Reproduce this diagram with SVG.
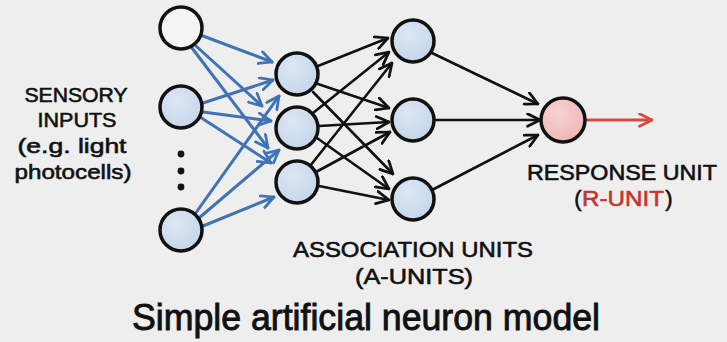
<svg xmlns="http://www.w3.org/2000/svg" width="727" height="342" viewBox="0 0 727 342">
  <defs>
    <radialGradient id="blueFill" cx="40%" cy="35%" r="70%">
      <stop offset="0" stop-color="#dde7f3"/>
      <stop offset="1" stop-color="#c3d5ea"/>
    </radialGradient>
    <radialGradient id="pinkFill" cx="40%" cy="35%" r="70%">
      <stop offset="0" stop-color="#f7d2d2"/>
      <stop offset="1" stop-color="#eeb6b6"/>
    </radialGradient>
    <marker id="headBlue" viewBox="0 0 12 12" refX="11" refY="6" markerWidth="15" markerHeight="15" markerUnits="userSpaceOnUse" orient="auto">
      <path d="M1,1 L11,6 L1,11" fill="none" stroke="#3f73b6" stroke-width="2.2" stroke-linecap="round" stroke-linejoin="round"/>
    </marker>
    <marker id="headBlack" viewBox="0 0 12 12" refX="11" refY="6" markerWidth="15" markerHeight="15" markerUnits="userSpaceOnUse" orient="auto">
      <path d="M1,1 L11,6 L1,11" fill="none" stroke="#111" stroke-width="2.2" stroke-linecap="round" stroke-linejoin="round"/>
    </marker>
    <marker id="headRed" viewBox="0 0 12 12" refX="11" refY="6" markerWidth="15" markerHeight="15" markerUnits="userSpaceOnUse" orient="auto">
      <path d="M1,1 L11,6 L1,11" fill="none" stroke="#d44a42" stroke-width="2.2" stroke-linecap="round" stroke-linejoin="round"/>
    </marker>
  </defs>
  <style>
    .node { stroke: #111; stroke-width: 3.5; }
    .in0 { fill: #f4f4f4; }
    .blue { fill: url(#blueFill); }
    .pink { fill: url(#pinkFill); }
    .eb { stroke: #3f73b6; stroke-width: 3; fill: none; marker-end: url(#headBlue); stroke-linecap: round; }
    .ek { stroke: #111; stroke-width: 2.6; fill: none; marker-end: url(#headBlack); stroke-linecap: round; }
    .er { stroke: #d44a42; stroke-width: 2.8; fill: none; marker-end: url(#headRed); stroke-linecap: round; }
    .lbl { font-family: "Liberation Sans", Arial, sans-serif; fill: #111; stroke: #111; stroke-width: 0.6; text-anchor: middle; }
    .red { fill: #c8342c; stroke: #c8342c; }
    .ttl { stroke-width: 0.9; }
  </style>

  <rect width="727" height="342" fill="#eeeeee"/>

  <g id="connectors">
    <!-- sensory inputs to association layer 1 -->
    <line class="eb" x1="203" y1="36" x2="272" y2="62"/>
    <line class="eb" x1="196" y1="46" x2="262" y2="106"/>
    <line class="eb" x1="192" y1="48" x2="268" y2="148"/>
    <line class="eb" x1="203" y1="103" x2="273" y2="80"/>
    <line class="eb" x1="203" y1="112" x2="271" y2="121"/>
    <line class="eb" x1="200" y1="117" x2="271" y2="163"/>
    <line class="eb" x1="195" y1="214" x2="279" y2="96"/>
    <line class="eb" x1="199" y1="218" x2="279" y2="150"/>
    <line class="eb" x1="203" y1="226" x2="274" y2="197"/>
    <!-- layer 1 to layer 2 -->
    <line class="ek" x1="318" y1="66" x2="388" y2="38"/>
    <line class="ek" x1="318" y1="84" x2="389" y2="108"/>
    <line class="ek" x1="313" y1="92" x2="393" y2="174"/>
    <line class="ek" x1="313" y1="113" x2="389" y2="52"/>
    <line class="ek" x1="319" y1="126" x2="389" y2="122"/>
    <line class="ek" x1="317" y1="138" x2="389" y2="189"/>
    <line class="ek" x1="310" y1="166" x2="392" y2="63"/>
    <line class="ek" x1="316" y1="172" x2="390" y2="132"/>
    <line class="ek" x1="319" y1="186" x2="389" y2="200"/>
    <!-- layer 2 to response unit -->
    <line class="ek" x1="432" y1="53" x2="538" y2="104"/>
    <line class="ek" x1="435" y1="120" x2="540" y2="120"/>
    <line class="ek" x1="432" y1="190" x2="538" y2="135"/>
    <!-- output -->
    <line class="er" x1="587" y1="120" x2="652" y2="120"/>
  </g>

  <g id="input-1"><circle class="node in0" cx="181" cy="28" r="21"/></g>
  <g id="input-2"><circle class="node blue" cx="181" cy="107" r="21"/></g>
  <g id="input-dots" fill="#111">
    <circle cx="181" cy="154" r="3.4"/>
    <circle cx="181" cy="171" r="3.4"/>
    <circle cx="181" cy="187" r="3.4"/>
  </g>
  <g id="input-n"><circle class="node blue" cx="181" cy="230" r="21"/></g>

  <g id="a1-1"><circle class="node blue" cx="297" cy="74" r="21"/></g>
  <g id="a1-2"><circle class="node blue" cx="297" cy="128" r="21"/></g>
  <g id="a1-3"><circle class="node blue" cx="297" cy="182" r="21"/></g>

  <g id="a2-1"><circle class="node blue" cx="413" cy="41" r="21"/></g>
  <g id="a2-2"><circle class="node blue" cx="413" cy="120" r="21"/></g>
  <g id="a2-3"><circle class="node blue" cx="413" cy="199" r="21"/></g>

  <g id="r-unit"><circle class="node pink" cx="563" cy="120" r="22"/></g>

  <g id="sensory-label" class="lbl" font-size="21">
    <text x="76" y="102" textLength="103" lengthAdjust="spacingAndGlyphs">SENSORY</text>
    <text x="77" y="127" textLength="79" lengthAdjust="spacingAndGlyphs">INPUTS</text>
    <text x="72" y="153" textLength="109" lengthAdjust="spacingAndGlyphs">(e.g. light</text>
    <text x="73" y="179" textLength="117" lengthAdjust="spacingAndGlyphs">photocells)</text>
  </g>

  <g id="association-label" class="lbl" font-size="22">
    <text x="413" y="257" textLength="240" lengthAdjust="spacingAndGlyphs">ASSOCIATION UNITS</text>
    <text x="414" y="284" textLength="118" lengthAdjust="spacingAndGlyphs">(A-UNITS)</text>
  </g>

  <g id="response-label" class="lbl" font-size="22">
    <text x="622" y="180" textLength="190" lengthAdjust="spacingAndGlyphs">RESPONSE UNIT</text>
    <text x="578" y="206">(</text>
    <text class="red" x="623" y="206" textLength="82" lengthAdjust="spacingAndGlyphs">R-UNIT</text>
    <text x="669" y="206">)</text>
  </g>

  <g id="title" class="lbl ttl" font-size="36">
    <text x="366" y="330" textLength="468" lengthAdjust="spacingAndGlyphs">Simple artificial neuron model</text>
  </g>
</svg>
